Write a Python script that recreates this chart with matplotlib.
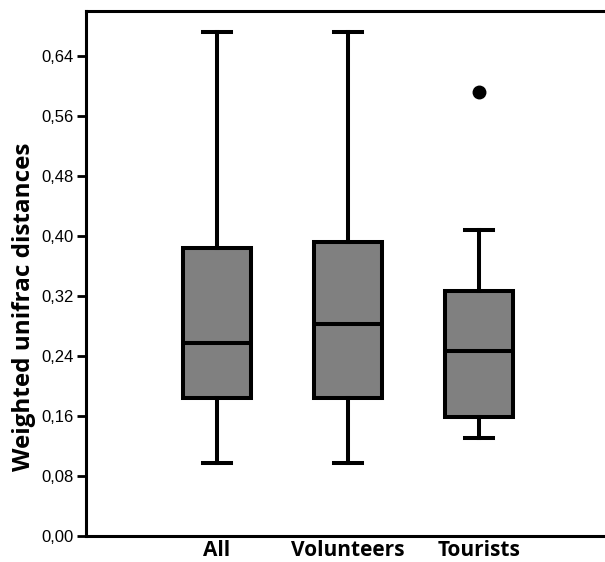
import matplotlib
matplotlib.use("Agg")
import matplotlib.pyplot as plt
from matplotlib.ticker import FuncFormatter

# values
groups = ["All", "Volunteers", "Tourists"]
whisker_low = [0.097, 0.097, 0.131]
q1 = [0.184, 0.184, 0.159]
median = [0.258, 0.283, 0.247]
q3 = [0.384, 0.392, 0.327]
whisker_high = [0.672, 0.672, 0.408]
outliers = [[], [], [0.592]]

yticks = [0.00, 0.08, 0.16, 0.24, 0.32, 0.40, 0.48, 0.56, 0.64]

stats = []
for i, name in enumerate(groups):
    stats.append(dict(label=name, whislo=whisker_low[i], q1=q1[i], med=median[i],
                      q3=q3[i], whishi=whisker_high[i], fliers=outliers[i]))

fig = plt.figure(figsize=(6.05, 5.62), dpi=100)
ax = fig.add_axes([0.142, 0.046, 0.858, 0.934])

lw = 2.9
ax.bxp(stats, positions=[1, 2, 3], widths=0.52, patch_artist=True,
       capwidths=0.21,
       boxprops=dict(facecolor="#808080", edgecolor="black", linewidth=lw),
       medianprops=dict(color="black", linewidth=lw),
       whiskerprops=dict(color="black", linewidth=lw),
       capprops=dict(color="black", linewidth=lw),
       flierprops=dict(marker="o", markerfacecolor="black", markeredgecolor="black",
                       markersize=9))

ax.set_xlim(0, 3.96)
ax.set_ylim(0, 0.70)
ax.set_yticks(yticks)
ax.yaxis.set_major_formatter(FuncFormatter(lambda v, p: f"{v:.2f}".replace(".", ",")))
for lab in ax.get_yticklabels():
    lab.set_fontfamily("Liberation Sans")
    lab.set_fontsize(12)

ax.set_xticks([1, 2, 3])
ax.set_xticklabels(groups, fontfamily="Open Sans", fontweight="bold", fontsize=15)
ax.tick_params(axis="x", length=0, pad=3)
ax.tick_params(axis="y", length=6.5, width=2, pad=2)

ax.spines["right"].set_visible(False)
for s in ["left", "top", "bottom"]:
    ax.spines[s].set_linewidth(2.2)

fig.text(24.5 / 605, 1 - 307 / 562, "Weighted unifrac distances", rotation=90,
         ha="center", va="center", fontfamily="Open Sans", fontweight="bold",
         fontsize=17.5)

fig.savefig("out.png", dpi=100)
